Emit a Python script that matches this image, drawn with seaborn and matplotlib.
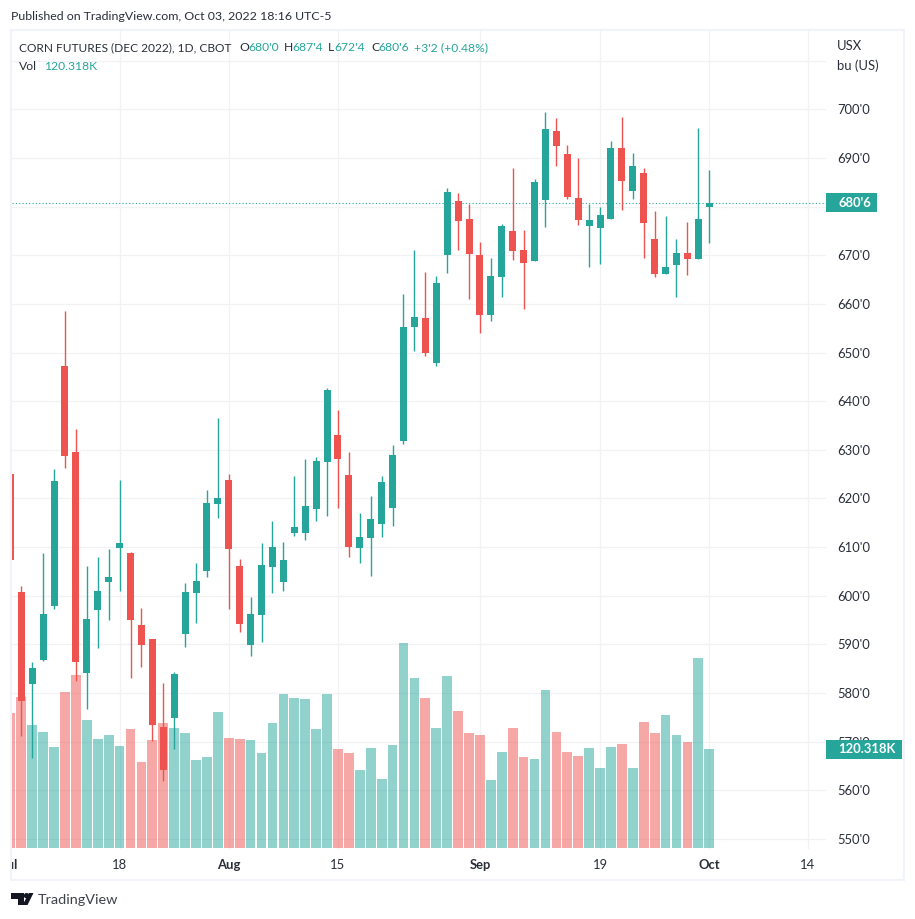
import matplotlib
matplotlib.use("Agg")
import matplotlib.pyplot as plt
import numpy as np
import pandas as pd
import seaborn as sns
from matplotlib.patches import Rectangle, Polygon, Circle
from matplotlib.transforms import Bbox

# ---------- data (Dec 2022 corn futures, daily, index 0 = 5 Jul) ----------
session = list(range(-1, 64))
opens = [625.0, 600.8, 581.9, 586.8, 597.9, 647.2, 629.6, 584.1, 597.1, 602.8, 609.8, 608.8, 594.0, 591.1, 573.0,
         574.9, 592.1, 600.6, 605.1, 618.9, 623.8, 606.1, 589.9, 596.1, 606.0, 602.8, 612.9, 612.9, 617.8, 627.5,
         633.1, 624.8, 609.8, 611.9, 614.8, 618.1, 631.8, 655.3, 657.1, 647.8, 670.1, 681.1, 677.4, 670.1, 657.7,
         665.5, 675.0, 671.1, 668.8, 681.4, 695.6, 690.8, 681.8, 676.0, 675.6, 677.5, 692.0, 683.2, 686.9, 673.4,
         666.2, 668.0, 670.5, 669.2, 680.0]
highs = [625.0, 602.0, 586.4, 608.8, 626.1, 658.5, 634.3, 606.1, 608.0, 609.6, 623.8, 609.0, 597.5, 591.1, 582.1,
         584.3, 602.6, 606.7, 621.8, 636.5, 625.0, 607.6, 599.8, 610.9, 615.4, 611.1, 624.6, 628.1, 628.5, 642.7,
         638.2, 629.6, 617.0, 620.5, 624.6, 631.0, 662.0, 671.1, 666.6, 665.7, 683.8, 682.8, 680.5, 672.7, 669.4,
         676.4, 687.9, 675.2, 685.7, 699.5, 698.2, 692.7, 690.0, 680.5, 679.9, 693.5, 698.4, 691.0, 687.9, 679.1,
         678.1, 673.4, 676.8, 696.2, 687.5]
lows = [607.4, 571.2, 566.7, 586.6, 597.3, 626.3, 582.5, 576.7, 589.3, 595.0, 601.0, 583.1, 585.4, 570.2, 562.0,
        568.5, 589.5, 594.4, 603.9, 616.0, 597.3, 592.6, 587.6, 590.5, 600.6, 601.0, 612.3, 611.5, 615.4, 616.4,
        618.1, 608.0, 606.7, 604.1, 612.1, 614.4, 631.2, 650.3, 649.3, 647.2, 666.4, 671.1, 661.0, 654.0, 656.5,
        661.4, 669.0, 659.0, 668.8, 675.8, 688.3, 681.6, 676.2, 667.6, 668.2, 677.5, 679.3, 681.6, 669.4, 665.5,
        666.2, 661.4, 665.9, 669.2, 672.5]
closes = [607.4, 578.4, 585.2, 596.3, 623.6, 628.7, 586.4, 595.2, 601.0, 603.9, 610.9, 595.0, 589.9, 573.4, 564.2,
          583.9, 600.8, 603.0, 619.1, 620.1, 609.6, 594.2, 596.3, 606.3, 610.0, 607.4, 614.1, 618.5, 627.7, 642.3,
          628.1, 610.0, 612.1, 615.8, 623.4, 629.0, 655.3, 657.3, 649.9, 664.3, 683.0, 677.0, 670.3, 657.7, 665.7,
          676.0, 670.9, 668.4, 685.1, 696.0, 692.5, 682.0, 677.3, 677.3, 678.3, 692.0, 685.3, 688.3, 676.6, 666.2,
          667.6, 670.5, 669.2, 677.5, 680.75]
volumes = [164.1, 183.5, 149.5, 141.0, 122.7, 189.6, 210.2, 155.6, 132.5, 137.3, 124.0, 144.6, 104.5, 131.3, 151.9,
           145.8, 139.8, 106.9, 110.6, 165.3, 133.7, 132.5, 131.3, 115.5, 151.9, 187.2, 182.3, 181.1, 144.6, 187.2,
           120.3, 115.5, 94.8, 121.5, 83.9, 125.2, 249.1, 206.6, 182.3, 145.8, 209.0, 166.5, 139.8, 137.3, 82.6,
           116.7, 145.8, 110.6, 108.2, 192.0, 141.0, 116.7, 111.8, 121.5, 97.2, 122.7, 126.4, 97.2, 153.1, 139.8,
           161.6, 137.3, 128.8, 230.9, 120.318]
x_ticks = [-1, 9, 19, 29, 42, 53, 63, 72]
x_labels = ["Jul", "18", "Aug", "15", "Sep", "19", "Oct", "14"]
x_bold = ["Jul", "Aug", "Sep", "Oct"]
price_ticks = list(range(550, 720, 10))
price_labels = ["" if p in (680, 710) else f"{p}'0" for p in price_ticks]
last_price = 680.75
last_price_label = "680'6"
last_vol = 120.318
last_vol_label = "120.318K"

# ---------- styling ----------
UP, DOWN = "#26a69a", "#ef5350"
TXT = "#2a2e39"
GRID = "#f2f2f5"
FRAME = "#f0f3fa"
FONT = ["Lato", "DejaVu Sans"]
W, H = 915, 919

sns.set_theme(style="white")
plt.rcParams["font.family"] = FONT
fig = plt.figure(figsize=(W / 100, H / 100), dpi=100, facecolor="white")

L, R, T, B = 12, 826, 31, 849
rect = [L / W, 1 - B / H, (R - L) / W, (B - T) / H]
ax = fig.add_axes(rect)
ax_vol = ax.twinx()
ax_c = fig.add_axes(rect, sharex=ax, sharey=ax)
ax.set_zorder(1)
ax_vol.set_zorder(2)
ax_c.set_zorder(3)
ax_vol.patch.set_alpha(0)
ax_c.patch.set_alpha(0)

df = pd.DataFrame({"session": session, "open": opens, "high": highs, "low": lows,
                   "close": closes, "volume": volumes})
df["dir"] = np.where(df["close"] >= df["open"], "up", "down")
palette = {"up": UP, "down": DOWN}

sns.barplot(data=df, x="session", y="volume", hue="dir", palette=palette, native_scale=True,
            dodge=False, width=0.89, saturation=1, alpha=0.5, errorbar=None, legend=False,
            linewidth=0, ax=ax_vol)

for d, c in palette.items():
    s = df[df["dir"] == d]
    ax_c.vlines(s["session"], s["low"], s["high"], color=c, lw=1.0, zorder=2)
    ax_c.bar(s["session"], (s["close"] - s["open"]).abs(), bottom=s[["open", "close"]].min(axis=1),
             width=0.64, color=c, linewidth=0, zorder=3)
ax_c.axhline(last_price, color=UP, lw=0.8, ls=(0, (1, 2)), zorder=1)

# scales: 10.92 px per session (session 0 at x = 21.3), 4.865 px per price unit (700 at y = 109.3)
xlim = ((L - 21.3) / 10.92, (R - 21.3) / 10.92)
ylim = (700 - (B - 109.3) / 4.865, 700 + (109.3 - T) / 4.865)
ax.set_xlim(xlim)
ax.set_ylim(ylim)
ax_vol.set_xlim(xlim)
ax_vol.set_ylim(-1.2, (848 - T) * 1.2153)

ax_vol.set_axis_off()
ax_c.set_axis_off()
ax.yaxis.tick_right()
ax.set_yticks(price_ticks, price_labels)
ax.set_xticks(x_ticks[1:], x_labels[1:])
ax.grid(True, color=GRID, lw=0.9)
ax.vlines([x_ticks[0]], *ylim, color=GRID, lw=0.9)
ax.tick_params(axis="y", length=0, pad=8.2, labelsize=9.4, labelcolor=TXT, labelright=True, labelleft=False)
ax.tick_params(axis="x", length=0, pad=7, labelsize=9.4, labelcolor=TXT)
for lab in ax.get_xticklabels():
    if lab.get_text() in x_bold:
        lab.set_fontweight("bold")
for sp in ax.spines.values():
    sp.set_visible(False)


def fx(px):
    return px / W


def fy(py):
    return 1 - py / H


def ftext(px, py, s, **kw):
    kw.setdefault("color", TXT)
    kw.setdefault("fontsize", 9.4)
    kw.setdefault("va", "center")
    return fig.text(fx(px), fy(py), s, **kw)


# clipped "Jul" at the very left of the time axis
jul = ftext(10.4, 865, x_labels[0], ha="center", fontweight="bold")
jul.set_clip_box(Bbox([[11.5, 0], [200, H]]))
jul.set_clip_on(True)

# pane frame
fig.add_artist(Rectangle((fx(11), fy(880)), (904 - 11) / W, (880 - 30) / H, fill=False,
                         edgecolor=FRAME, lw=1.5, transform=fig.transFigure, zorder=5))

# last price / last volume badges
fig.canvas.draw()
py_price = H - ax.transData.transform((0, last_price))[1]
py_vol = H - ax_vol.transData.transform((0, last_vol))[1]
for py, label, x1, tx in [(py_price, last_price_label, 877, 838.5), (py_vol, last_vol_label, 902, 838.5)]:
    fig.add_artist(Rectangle((fx(826), fy(py + 9.5)), (x1 - 826) / W, 19 / H, facecolor=UP, edgecolor="none",
                             transform=fig.transFigure, zorder=6))
    ftext(tx, py, label, color="white", fontweight="bold", zorder=7)

# header texts
ftext(11, 17, "Published on TradingView.com, Oct 03, 2022 18:16 UTC-5", fontsize=8.95)
ftext(19, 47.5, "CORN FUTURES (DEC 2022), 1D, CBOT", fontsize=8.6)
for px, s, c in [(239, "O", TXT), (248, "680'0", UP), (284, "H", TXT), (292, "687'4", UP), (328, "L", TXT),
                 (334, "672'4", UP), (371, "C", TXT), (378, "680'6", UP), (414, "+3'2 (+0.48%)", UP)]:
    ftext(px, 47.5, s, color=c, fontsize=8.7)
ftext(19, 66, "Vol", fontsize=8.7)
ftext(44, 66, "120.318K", color=UP, fontsize=8.7)
ftext(837, 46, "USX")
ftext(837, 66, "bu (US)")

# logo
LOGO = "#131722"
for pts in ([(11, 893), (24, 893), (24, 905), (18, 905), (18, 899), (11, 899)],
            [(29, 893), (33.5, 893), (27.5, 905), (22.5, 905)]):
    fig.add_artist(Polygon([(fx(a), fy(b)) for a, b in pts], closed=True, facecolor=LOGO, edgecolor="none",
                           transform=fig.transFigure))
fig.add_artist(Circle((fx(26.5), fy(895.7)), 2.7 / W, facecolor=LOGO, edgecolor="none", transform=fig.transFigure))
ftext(38, 900, "TradingView", fontsize=10.4, color="#3c4048")

fig.savefig("out.png", dpi=100)
